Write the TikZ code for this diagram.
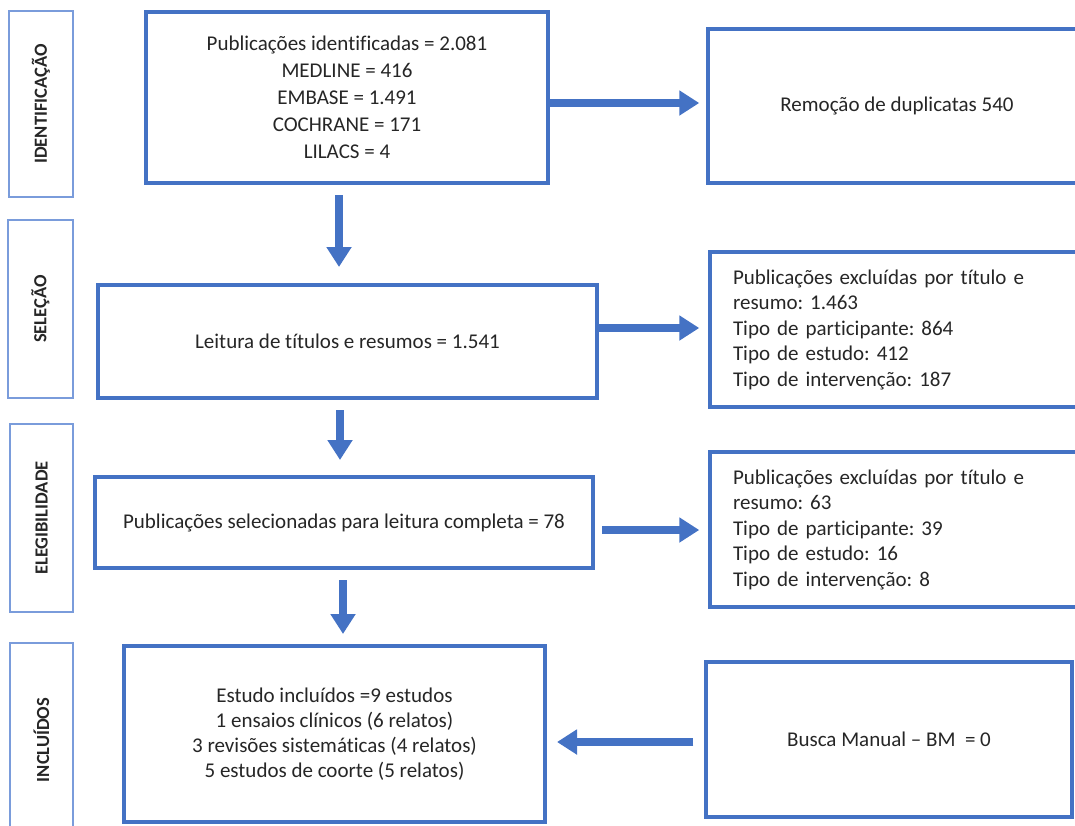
\documentclass[tikz,border=0pt]{standalone}
\usepackage{fontspec}
\setmainfont{Carlito}[Ligatures=NoCommon]
\usetikzlibrary{arrows.meta}

\definecolor{prismablue}{HTML}{4472C4}
\definecolor{sideblue}{HTML}{7A9CDB}

\begin{document}
\frenchspacing
\begin{tikzpicture}[x=1pt, y=-1pt,
  stagebox/.style={draw=prismablue, line width=4pt, fill=white, align=center, inner sep=0pt, font=\fontsize{21}{27}\selectfont, text=black!85},
  sidebox/.style={draw=sideblue, line width=2.5pt, rotate=90, inner sep=0pt, font=\fontsize{18.5}{20}\selectfont\bfseries, text=black!85},
  exclbox/.style={draw=prismablue, line width=3.5pt, align=left, inner xsep=23pt, text width=334pt, font=\fontsize{21}{25.5}\selectfont, text=black!85},
  flow/.style={prismablue, line width=7.5pt, -{Triangle[length=20pt,width=24pt]}}
]
  \useasboundingbox (0,0) rectangle (1075,825);
  % fases
  \node[sidebox, minimum width=186pt, minimum height=64pt] (fase1) at (41,104) {IDENTIFICAÇÃO};
  \node[sidebox, minimum width=178pt, minimum height=65pt] (fase2) at (40.5,309) {SELEÇÃO};
  \node[sidebox, minimum width=188pt, minimum height=63pt] (fase3) at (41.5,518) {ELEGIBILIDADE};
  \node[sidebox, minimum width=194pt, minimum height=63pt] (fase4) at (41.5,740) {INCLUÍDOS};
  % caixas principais
  \node[stagebox, minimum width=402pt, minimum height=171pt] (ident) at (347,97.5)
    {Publicações identificadas = 2.081\\ MEDLINE = 416\\ EMBASE = 1.491\\ COCHRANE = 171\\ LILACS = 4};
  \node[stagebox, minimum width=499pt, minimum height=113pt] (leitura) at (347.5,341.5)
    {Leitura de títulos e resumos = 1.541};
  \node[stagebox, minimum width=498pt, minimum height=91pt] (selec) at (344,522.5)
    {Publicações selecionadas para leitura completa = 78};
  \node[stagebox, minimum width=421pt, minimum height=176pt, font=\fontsize{21}{25}\selectfont] (incl) at (334.5,734)
    {Estudo incluídos =9 estudos\\ 1 ensaios clínicos (6 relatos)\\ 3 revisões sistemáticas (4 relatos)\\ 5 estudos de coorte (5 relatos)};
  % caixas da direita
  \node[stagebox, line width=3.5pt, minimum width=378pt, minimum height=154pt] (dupl) at (897,106)
    {Remoção de duplicatas 540};
  \node[exclbox, minimum height=155pt] (excl1) at (900,329.5)
    {Publicações excluídas por título e\\ resumo:\ 1.463\\ Tipo de participante: 864\\ Tipo de estudo: 412\\ Tipo de intervenção: 187};
  \node[exclbox, minimum height=155pt] (excl2) at (900,529.5)
    {Publicações excluídas por título e\\ resumo:\ 63\\ Tipo de participante: 39\\ Tipo de estudo:\ 16\\ Tipo de intervenção: 8};
  \node[stagebox, line width=3.5pt, minimum width=366pt, minimum height=155pt] (busca) at (889,739.5)
    {Busca Manual -- BM \ = 0};
  % setas
  \draw[flow, shorten <=10pt, shorten >=16pt] ([xshift=-8pt]ident.south) -- ([xshift=-8pt]ident.south |- leitura.north);
  \draw[flow, shorten <=10pt, shorten >=15pt] ([xshift=-7.5pt]leitura.south) -- ([xshift=-7.5pt]leitura.south |- selec.north);
  \draw[flow, shorten <=10pt, shorten >=10pt] ([xshift=-1pt]selec.south) -- ([xshift=-1pt]selec.south |- incl.north);
  \draw[flow, shorten >=7pt] ([yshift=-5.5pt]ident.east) -- ([yshift=-5.5pt]ident.east -| dupl.west);
  \draw[flow, shorten >=9pt] ([yshift=13.5pt]leitura.east) -- ([yshift=13.5pt]leitura.east -| excl1.west);
  \draw[flow, shorten <=7pt, shorten >=9pt] ([yshift=-7.5pt]selec.east) -- ([yshift=-7.5pt]selec.east -| excl2.west);
  \draw[flow, shorten <=11pt, shorten >=10pt] ([yshift=-2.5pt]busca.west) -- ([yshift=-2.5pt]busca.west -| incl.east);
\end{tikzpicture}
\end{document}
